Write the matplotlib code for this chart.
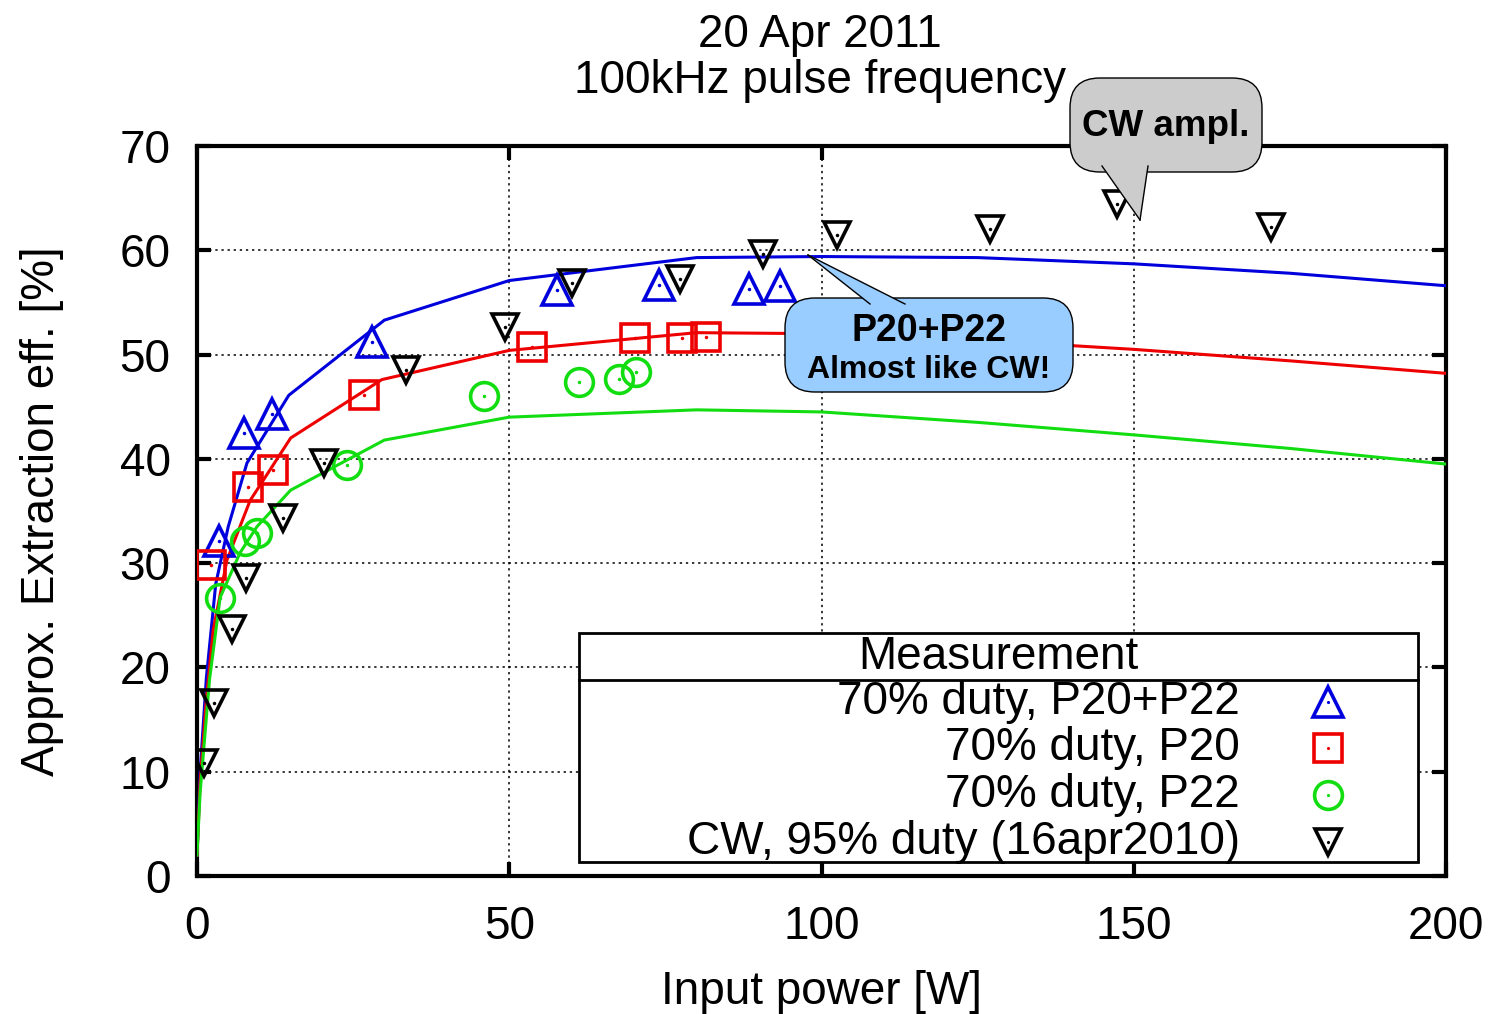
import matplotlib
matplotlib.use("Agg")
import matplotlib.pyplot as plt
from matplotlib.patches import FancyBboxPatch, Polygon, Rectangle
from matplotlib.lines import Line2D

plt.rcParams['font.family'] = ['Liberation Sans', 'DejaVu Sans']

# ---- data ----
tri_x = [3.5, 7.5, 12, 28, 57.6, 74, 88.4, 93.4]
tri_y = [32.1, 42.5, 44.3, 51.2, 56.2, 56.7, 56.3, 56.6]

sq_x = [2.2, 8.2, 12.2, 26.7, 53.6, 70.1, 77.7, 81.5]
sq_y = [29.8, 37.3, 38.9, 46.1, 50.7, 51.6, 51.6, 51.7]

circ_x = [3.7, 7.7, 9.6, 24, 46, 61.2, 67.6, 70.3]
circ_y = [26.7, 32.1, 32.9, 39.4, 46.0, 47.4, 47.7, 48.3]

cw_x = [1.1, 2.7, 5.6, 7.8, 13.8, 20.3, 33.5, 49.3, 60, 77.3, 90.6, 102.5, 127, 147.3, 172]
cw_y = [10.8, 16.6, 23.7, 28.6, 34.3, 39.6, 48.5, 52.6, 56.9, 57.2, 59.6, 61.5, 62.0, 64.4, 62.2]

fit_blue_x = [0, 0.5, 1.5, 3, 5, 8, 14.7, 30, 50, 80, 100, 125, 150, 175, 200]
fit_blue_y = [2, 10, 19, 28, 33.5, 39.6, 46.1, 53.3, 57.1, 59.3, 59.4, 59.3, 58.7, 57.8, 56.6]

fit_red_x = [0, 0.5, 1.5, 2.6, 4.8, 8.5, 15, 29.6, 50, 80, 100, 125, 150, 175, 200]
fit_red_y = [2, 9, 17, 23.6, 30.3, 36, 42, 47.6, 50.4, 52.1, 52.0, 51.4, 50.5, 49.4, 48.2]

fit_green_x = [0, 0.5, 2, 3.7, 6.9, 9.6, 15, 30, 50, 80, 100, 125, 150, 175, 200]
fit_green_y = [2, 8, 18.8, 26.7, 31, 33.5, 37, 41.8, 44.0, 44.7, 44.5, 43.5, 42.3, 41.0, 39.5]

legend_labels = ["70% duty, P20+P22", "70% duty, P20", "70% duty, P22", "CW, 95% duty (16apr2010)"]
x_ticks = [0, 50, 100, 150, 200]
y_ticks = [0, 10, 20, 30, 40, 50, 60, 70]

W, H = 1494, 1014
fig = plt.figure(figsize=(W / 100, H / 100), dpi=100)
ax = fig.add_axes([197 / W, 1 - 876 / H, (1446 - 197) / W, (876 - 146) / H])

BLUE = '#0000dd'
RED = '#ee0000'
GREEN = '#11dd11'
FS = 33

ax.plot(fit_blue_x, fit_blue_y, color=BLUE, lw=2.2, zorder=3)
ax.plot(fit_red_x, fit_red_y, color=RED, lw=2.2, zorder=3)
ax.plot(fit_green_x, fit_green_y, color=GREEN, lw=2.2, zorder=3)

mk = dict(ls='none', mfc='none', mew=2.6, zorder=4)
ax.plot(tri_x, tri_y, marker='^', ms=22, mec=BLUE, **mk)
ax.plot(tri_x, tri_y, marker='.', ms=3, color=BLUE, ls='none', zorder=4)
ax.plot(sq_x, sq_y, marker='s', ms=20, mec=RED, **mk)
ax.plot(sq_x, sq_y, marker='.', ms=3, color=RED, ls='none', zorder=4)
ax.plot(circ_x, circ_y, marker='o', ms=20, mec=GREEN, **mk)
ax.plot(circ_x, circ_y, marker='.', ms=3, color=GREEN, ls='none', zorder=4)
ax.plot(cw_x, cw_y, marker='v', ms=19, mec='black', **mk)
ax.plot(cw_x, cw_y, marker='.', ms=3, color='black', ls='none', zorder=4)

ax.set_xlim(0, 200)
ax.set_ylim(0, 70)
ax.set_xticks(x_ticks)
ax.set_yticks(y_ticks)
ax.tick_params(direction='in', length=10, width=3, labelsize=FS, top=True, right=True)
ax.tick_params(axis='y', pad=19)
ax.tick_params(axis='x', pad=21)
for s in ax.spines.values():
    s.set_linewidth(3)
ax.grid(True, color='black', ls=(0, (1.5, 2.5)), lw=1.1)

ax.set_xlabel('Input power [W]', fontsize=FS, labelpad=15)
ax.set_ylabel('Approx. Extraction eff. [%]', fontsize=FS, labelpad=40)
fig.text(820 / W, 1 - 58 / H, '20 Apr 2011\n100kHz pulse frequency', ha='center', va='center',
         fontsize=FS, linespacing=1.05)

# ---- legend box (manual, right aligned text) ----
def fx(px):
    return (px - 197) / (1446 - 197)

def fy(py):
    return (876 - py) / (876 - 146)

ax.add_patch(Rectangle((fx(579), fy(862)), fx(1418) - fx(579), fy(633) - fy(862),
                       transform=ax.transAxes, facecolor='white', edgecolor='black', lw=2, zorder=6))
ax.add_line(Line2D([fx(579), fx(1418)], [fy(680), fy(680)], transform=ax.transAxes,
                   color='black', lw=2, zorder=7))
ax.text(fx(998), fy(657), 'Measurement', transform=ax.transAxes, ha='center', va='center',
        fontsize=FS, zorder=8)
leg_y = [702, 748, 795, 842]
leg_style = [('^', BLUE, 22), ('s', RED, 20), ('o', GREEN, 20), ('v', 'black', 19)]
for lab, yy, (m, c, s) in zip(legend_labels, leg_y, leg_style):
    ax.text(fx(1240), fy(yy), lab, transform=ax.transAxes, ha='right', va='center',
            fontsize=FS, zorder=8)
    ax.plot([fx(1328)], [fy(yy)], transform=ax.transAxes, marker=m, ms=s, mfc='none',
            mec=c, mew=2.6, ls='none', clip_on=False, zorder=8)
    ax.plot([fx(1328)], [fy(yy)], transform=ax.transAxes, marker='.', ms=2.5, color=c,
            ls='none', clip_on=False, zorder=8)

# ---- callouts (figure pixel coordinates) ----
def F(px, py):
    return (px / W, 1 - py / H)

def callout(x0, y0, x1, y1, tip, base1, base2, face):
    box = FancyBboxPatch(F(x0, y1), (x1 - x0) / W, (y1 - y0) / H,
                         boxstyle='round,pad=0,rounding_size=0.02', transform=fig.transFigure,
                         facecolor=face, edgecolor='black', lw=1.0, zorder=10, mutation_aspect=W / H)
    fig.add_artist(box)
    poly = Polygon([F(*base1), F(*tip), F(*base2)], closed=True, transform=fig.transFigure,
                   facecolor=face, edgecolor='none', zorder=11)
    fig.add_artist(poly)
    for b in (base1, base2):
        fig.add_artist(Line2D([F(*b)[0], F(*tip)[0]], [F(*b)[1], F(*tip)[1]],
                              transform=fig.transFigure, color='black', lw=1.0, zorder=12))

callout(1070, 78, 1262, 172, (1140, 220), (1102, 166), (1148, 166), '#cccccc')
fig.text(1166 / W, 1 - 126 / H, 'CW ampl.', ha='center', va='center', fontsize=26.5,
         fontweight='bold', zorder=13)

callout(785, 298, 1073, 392, (808, 255), (870, 304), (905, 304), '#99ccff')
fig.text(929 / W, 1 - 331 / H, 'P20+P22', ha='center', va='center', fontsize=27,
         fontweight='bold', zorder=13)
fig.text(929 / W, 1 - 370 / H, 'Almost like CW!', ha='center', va='center', fontsize=23,
         fontweight='bold', zorder=13)

fig.savefig('out.png', dpi=100)
